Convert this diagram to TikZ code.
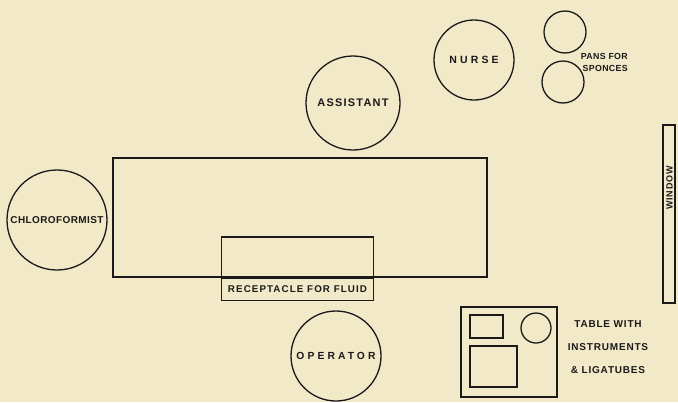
\documentclass[tikz,border=0pt]{standalone}
\usepackage{fontspec}
\usepackage{tikz}
\usetikzlibrary{positioning,calc}
\newfontfamily\planfont[LetterSpace=8]{Liberation Sans}
\newfontfamily\tightfont[LetterSpace=4]{Liberation Sans}
\newfontfamily\loosefont[LetterSpace=11]{Liberation Sans}
\newfontfamily\widefont[LetterSpace=30]{Liberation Sans}
\definecolor{paper}{HTML}{F2E9C9}
\definecolor{ink}{HTML}{1A1A1A}
\tikzset{
  person/.style = {draw=ink, circle, line width=1.3pt, inner sep=0pt, text=ink},
  plank/.style = {draw=ink, line width=1.3pt, inner sep=0pt},
  caption/.style = {text=ink, inner sep=0pt, font=\planfont\bfseries\fontsize{10}{12}\selectfont},
}
\begin{document}
\begin{tikzpicture}[x=1pt, y=-1pt]
        \fill[paper] (0,0) rectangle (678,402);
        \useasboundingbox (0,0) rectangle (678,402);

        \coordinate (tbl) at (300,217.5);
        \coordinate (rcp) at (297.5,257);
        \coordinate (chl) at (57,220);
        \coordinate (ast) at (353,103);
        \coordinate (nrs) at (474,60);
        \coordinate (pan_a) at (565,32);
        \coordinate (pan_b) at (563,82);
        \coordinate (opr) at (336,356);
        \coordinate (ins) at (509,352);
        \coordinate (win) at (669,214);

        % operating table and receptacle
        \node[plank, minimum width = 374pt, minimum height = 119pt] (Table) at (tbl) {};
        \node[plank, minimum width = 152pt, minimum height = 40pt] (Recept) at (rcp) {};
        \node[caption, plank, anchor=north, minimum width = 152pt, minimum height = 22pt,
              font=\loosefont\bfseries\fontsize{9.8}{10}\selectfont] (Recept_l) at (Recept.south) {RECEPTACLE FOR FLUID};

        % people
        \node[person, minimum size = 100pt, font=\tightfont\bfseries\fontsize{10}{11}\selectfont] (Chloro) at (chl) {CHLOROFORMIST};
        \node[person, minimum size = 94pt, font=\loosefont\bfseries\fontsize{11}{12}\selectfont] (Assist) at (ast) {ASSISTANT};
        \node[person, minimum size = 80pt, font=\widefont\bfseries\fontsize{10.5}{12}\selectfont] (Nurse) at (nrs) {NURSE};
        \node[person, minimum size = 90pt, font=\widefont\bfseries\fontsize{10.3}{12}\selectfont] (Oper) at (opr) {OPERATOR};

        % pans
        \node[person, minimum size = 42pt] (Pan_a) at (pan_a) {};
        \node[person, minimum size = 42pt] (Pan_b) at (pan_b) {};
        \node[caption, align=right, anchor=north east, font=\tightfont\bfseries\fontsize{8.8}{12}\selectfont] (Pans_l) at (628,53) {PANS FOR\\SPONCES};

        % instrument table
        \node[plank, minimum width = 96pt, minimum height = 90pt] (Instr) at (ins) {};
        \node[plank, minimum width = 33pt, minimum height = 23pt] (Tray) at (486.5,326.5) {};
        \node[person, minimum size = 30pt] (Bowl) at (536,328) {};
        \node[plank, minimum width = 47pt, minimum height = 41pt] (Box) at (493.5,366.5) {};
        \node[caption, align=center, font=\planfont\bfseries\fontsize{10}{23}\selectfont, anchor=north] (Instr_l) at (608,320) {TABLE WITH\\INSTRUMENTS\\\& LIGATUBES};

        % window
        \node[plank, minimum width = 12pt, minimum height = 178pt] (Window) at (win) {};
        \node[caption, rotate=90, font=\planfont\bfseries\fontsize{9}{10}\selectfont] (Window_l) at (669.5,188) {WINDOW};
    \end{tikzpicture}
\end{document}
